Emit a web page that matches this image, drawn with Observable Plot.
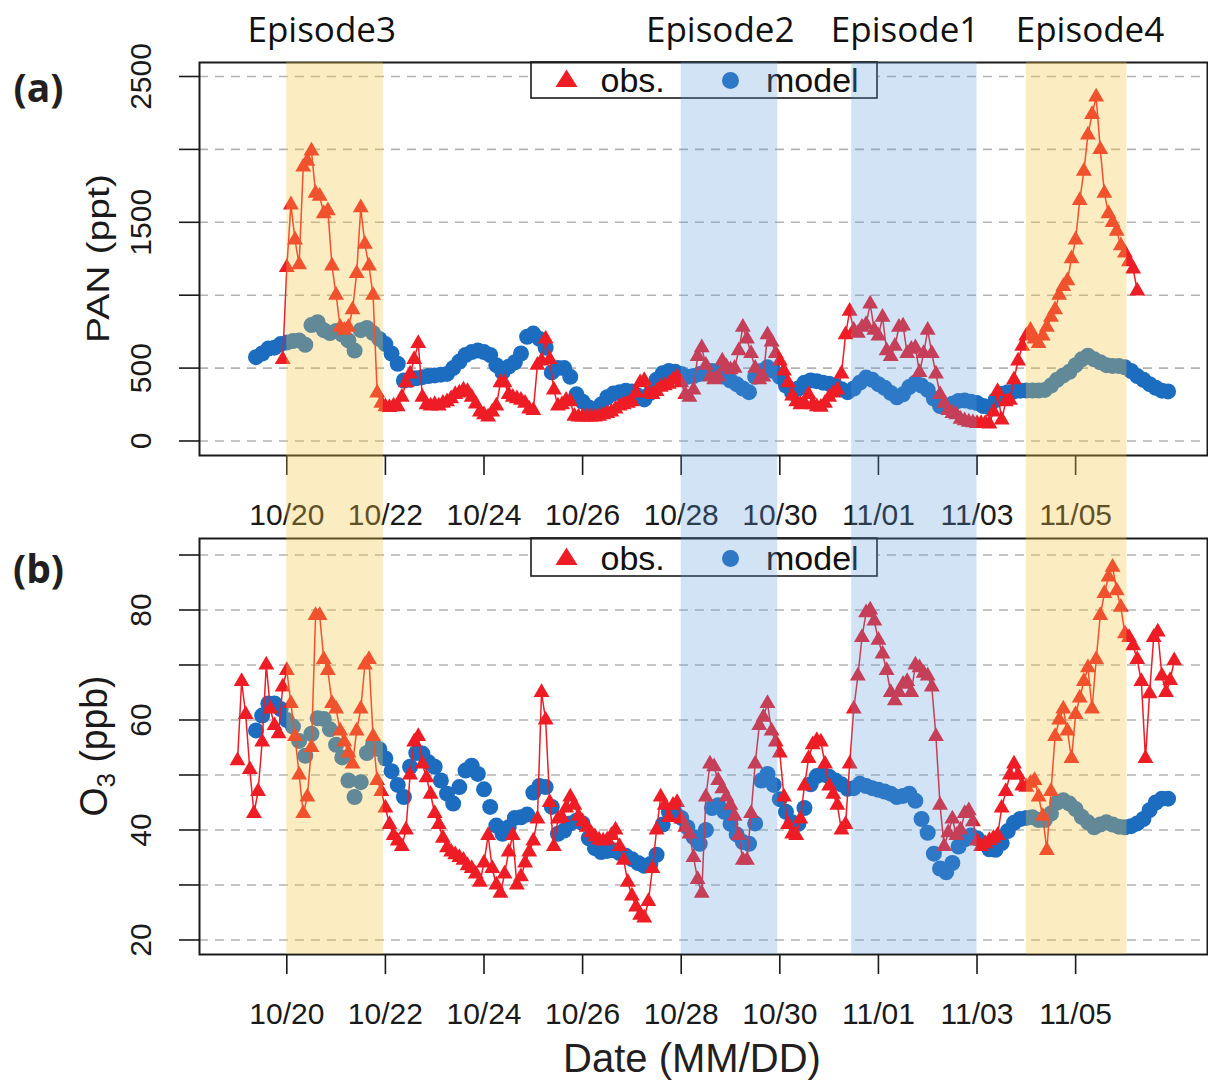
<!DOCTYPE html>
<html>
<head>
<meta charset="utf-8">
<script src="https://cdn.jsdelivr.net/npm/d3@7"></script>
<script src="https://cdn.jsdelivr.net/npm/@observablehq/plot@0.6"></script>
<style>
  html, body { margin: 0; padding: 0; background: #fff; overflow: hidden; }
  #fig { position: relative; width: 1208px; height: 1082px; }
  #fig svg { display: block; }
</style>
</head>
<body>
<div id="fig"></div>
<script>
// ---------------- data (hours counted from 10/20 00:00) ----------------
const YEAR = 2019;
const xTickLabels = ["10/20", "10/22", "10/24", "10/26", "10/28", "10/30", "11/01", "11/03", "11/05"];

const panTicks = [0, 500, 1000, 1500, 2000, 2500];
const panTickLabels = [0, 500, 1500, 2500];
const o3Ticks = [20, 30, 40, 50, 60, 70, 80, 90];
const o3TickLabels = [20, 40, 60, 80];

const episodeNames  = ["Episode3", "Episode2", "Episode1", "Episode4"];
const episodeStartH = [0, 192, 275, 360];
const episodeEndH   = [47, 239, 336, 409];
const episodeKind   = ["yellow", "blue", "blue", "yellow"];
const episodeLabelH = [17, 211, 301, 391];

// PAN observations (ppt), every 2 h starting 10/19 22:00
const panObsStartH = -2;
const panObs = [
  560, 1190, 1620, 1380, 1210, 1880, 1920, 1990, 1700, 1680, 1560, 1580, 1200, 1000, 780, 760, 780, 900, 1150, 1600,
  1350, 1200, 1000, 330, 260, 235, 230, 240, 235, 300, 400, 460, 560, 670, 300, 250, 240, 250, 240, 260,
  270, 290, 320, 330, 350, 340, 300, 255, 200, 180, 165, 200, 240, 400, 400, 320, 300, 290, 280, 260,
  220, 210, 520, 550, 700, 560, 350, 240, 250, 280, 270, 170, 165, 165, 165, 165, 165, 170, 180, 190,
  200, 220, 240, 250, 260, 270, 330, 400, 415, 330, 320, 340, 370, 380, 390, 420, 440, 400, 320, 300,
  350, 580, 640, 520, 440, 420, 440, 550, 510, 490, 500, 620, 780, 700, 600, 500, 420, 440, 730, 680,
  600, 550, 480, 400, 310, 270, 250, 260, 320, 250, 235, 232, 260, 300, 330, 350, 460, 730, 890, 760,
  740, 780, 800, 940, 760, 720, 850, 620, 580, 650, 780, 790, 600, 630, 640, 470, 600, 760, 600, 460,
  320, 260, 210, 190, 180, 150, 140, 130, 125, 120, 120, 120, 118, 200, 340, 145, 270, 280, 420, 550,
  650, 720, 760, 700, 670, 720, 780, 850, 900, 1000, 1060, 1100, 1250, 1380, 1650, 1850, 2100, 2240, 2360, 2000,
  1700, 1560, 1500, 1440, 1340, 1290, 1230, 1180, 1030
];

// PAN model (ppt), every 3 h starting 10/19 09:00
const panModStartH = -15;
const panMod = [
  575, 600, 634, 640, 665, 675, 685, 690, 660, 795, 815, 760, 740, 755, 730, 690, 620, 760, 775, 740,
  700, 665, 600, 530, 415, 420, 430, 438, 445, 450, 455, 460, 500, 545, 590, 610, 620, 610, 590, 520,
  470, 510, 540, 600, 715, 737, 700, 640, 470, 500, 500, 440, 320, 270, 230, 215, 250, 300, 325, 335,
  345, 340, 310, 285, 330, 420, 465, 480, 475, 460, 440, 445, 460, 470, 480, 480, 440, 415, 390, 360,
  335, 440, 480, 505, 480, 440, 380, 330, 360, 400, 415, 410, 400, 392, 380, 355, 335, 360, 400, 435,
  420, 390, 365, 330, 300, 320, 370, 400, 380, 350, 290, 240, 240, 255, 275, 278, 270, 260, 240, 232,
  280, 324, 335, 340, 345, 346, 346, 346, 350, 380, 420, 450, 475, 520, 560, 585, 560, 540, 520, 515,
  515, 505, 480, 445, 420, 390, 365, 345, 340
];

// O3 observations (ppb), every 2 h starting 10/19 00:00
const o3ObsStartH = -24;
const o3Obs = [
  52.6, 67, 61, 51, 43, 47, 56, 70, 62, 59, 57.5, 66, 69, 63, 57, 50, 43, 46, 55, 79,
  79, 71, 69, 63, 62, 58, 56, 54, 52, 58, 62, 70, 71, 57, 49, 47, 44, 41, 39, 38,
  37, 40, 50, 56, 57, 52, 49.5, 46.5, 43, 41, 38.5, 36.8, 36, 35.5, 35, 34.5, 33.5, 33, 32, 30.5,
  34, 39, 33, 30, 28.5, 32, 36, 39, 30, 31.5, 34, 36, 38, 42, 65, 60, 45, 37, 42, 42.3,
  44, 46, 44.5, 42.5, 41.5, 40.5, 39.5, 38.8, 38.2, 38, 38.2, 39, 40, 37, 34.5, 30.5, 28, 26, 24.5, 24,
  27, 33, 40, 46, 44.5, 42.3, 44.5, 45, 42, 40.5, 39.3, 35, 31, 28.5, 46, 52, 51.5, 49, 47.5, 46,
  44.5, 42.5, 39, 34.5, 34.5, 43, 52, 59, 60.5, 63, 58, 56, 54, 46, 41, 39.3, 39, 42, 48, 53,
  55.5, 56.3, 56, 52, 48, 46.5, 44.5, 40, 41, 52, 62, 68, 75, 79.5, 80, 78, 74.5, 72, 69, 65,
  63.5, 65, 66.5, 67, 65, 70, 69.5, 68.5, 68, 66, 57, 44.5, 37, 39.5, 42, 39, 40, 43, 43.5, 41.5,
  38, 37, 37.5, 38.1, 38.5, 39, 44, 47, 50, 52, 50, 48, 47.8, 48.5, 49, 46, 42.5, 36.3, 47, 57,
  60, 62, 58, 53, 61, 64, 67, 69.5, 62, 71, 79, 83, 86, 87.8, 83.5, 80.5, 75.7, 75, 73.5, 71,
  67, 53, 64.8, 75, 76, 68, 65, 67.2, 70.8
];

// O3 model (ppb), every 3 h starting 10/19 09:00
const o3ModStartH = -15;
const o3Mod = [
  58.1, 60.8, 63, 63, 62, 60, 58.8, 56.2, 53.5, 57.5, 60.3, 60.2, 58.3, 55.5, 53.2, 49, 46, 48.7, 54, 55.6,
  54.7, 53, 50.7, 48.2, 46, 51.5, 54, 53.9, 52.3, 51.5, 49, 46.6, 44.8, 47.8, 50.8, 51.7, 50.2, 47.4, 44.2, 40.8,
  39.3, 40.5, 42.2, 42.3, 42.8, 46.8, 48, 47.8, 44.2, 39.3, 39.9, 41.2, 41.7, 41.2, 38.5, 36.7, 36, 36.2, 36.3, 35.8,
  35.3, 34.7, 34, 33.5, 33.8, 35.5, 41, 43.3, 43.1, 42.2, 40.5, 38.7, 37.5, 40, 44, 44.5, 43.3, 41.1, 39.2, 37.8,
  37.5, 41.2, 49, 50.2, 48.2, 45.6, 43.3, 41.4, 41.1, 44, 48.3, 49.8, 50.1, 49.7, 49, 48.3, 47.5, 47.6, 48.4, 48,
  47.6, 47.3, 47, 46.6, 46, 46.2, 46.6, 45.3, 42, 39.5, 35.7, 33, 32.3, 34, 37, 38.3, 39, 38.5, 37.6, 36.5,
  36.4, 37.6, 39.8, 41.3, 42, 42.2, 42.3, 41.8, 41.8, 43, 45, 45.4, 44.8, 43.8, 42.4, 41.4, 40.5, 41, 41.4, 41,
  40.6, 40.5, 40.7, 41.2, 42, 43.6, 45, 45.7, 45.7
];

// ---------------- helpers ----------------
const T0 = Date.UTC(YEAR, 9, 20);
const hour = h => new Date(T0 + h * 3600e3);
const series = (startH, stepH, vals) => vals.map((v, i) => ({t: hour(startH + i * stepH), v}));
const xTickDates = xTickLabels.map(s => { const [m, d] = s.split("/").map(Number); return new Date(Date.UTC(YEAR, m - 1, d)); });
const fmtTick = d3.utcFormat("%m/%d");
const xDomain = [hour(-42.5), hour(448.2)];

const episodes = episodeNames.map((name, i) => ({
  name, start: hour(episodeStartH[i]), end: hour(episodeEndH[i]), kind: episodeKind[i], label: hour(episodeLabelH[i])
}));

const RED = "#EE1C25", BLUE = "#1C6DC0", INK = "#1a1a1a";
const SANS = "'Liberation Sans', Arial, Helvetica, sans-serif";
const HUMAN = "'Open Sans', 'Noto Sans', sans-serif";

// legend drawn inside the panel, below the episode shading
function legendMark(boxH, baseY, symY) {
  return (index, scales, values, dims) => {
    const x0 = dims.marginLeft + 332, y0 = dims.marginTop;
    const g = d3.create("svg:g");
    g.append("rect").attr("x", x0).attr("y", y0).attr("width", 346).attr("height", boxH)
      .attr("fill", "white").attr("stroke", INK).attr("stroke-width", 1.6);
    const cx = x0 + 35.5, cy = y0 + symY;
    g.append("path").attr("d", `M${cx},${cy - 9.5}L${cx + 11},${cy + 8}L${cx - 11},${cy + 8}Z`).attr("fill", RED);
    g.append("circle").attr("cx", x0 + 199.5).attr("cy", y0 + symY + 1.5).attr("r", 8.5).attr("fill", BLUE);
    const txt = (x, s) => g.append("text").attr("x", x).attr("y", y0 + baseY).attr("font-size", 34)
      .attr("text-anchor", "start").attr("font-family", SANS).attr("fill", "#111").text(s);
    txt(x0 + 69.5, "obs.");
    txt(x0 + 235, "model");
    return g.node();
  };
}

// rotated y axis title (supports subscript)
function yTitleMark(parts, fontSize, length, cx) {
  return (index, scales, values, dims) => {
    const cy = dims.marginTop + (dims.height - dims.marginTop - dims.marginBottom) / 2;
    const g = d3.create("svg:g");
    const t = g.append("text")
      .attr("transform", `translate(${cx},${cy}) rotate(-90)`)
      .attr("text-anchor", "middle").attr("dy", "0.32em")
      .attr("font-size", fontSize).attr("font-family", SANS).attr("fill", INK)
      .attr("textLength", length).attr("lengthAdjust", "spacingAndGlyphs");
    for (const p of parts) {
      const ts = t.append("tspan").text(p.text);
      if (p.sub) ts.attr("font-size", fontSize * 0.7).attr("dy", "0.3em");
      if (p.after) ts.attr("dy", "-0.21em");
    }
    return g.node();
  };
}

function panel(opt) {
  const {height, marginTop, marginBottom, yDomain, yTicks, yTickLabels, obs, mod, tag, tagDy, titleMark, legend, showEpisodes, bandSide} = opt;
  const plotH = height - marginTop - marginBottom;
  const span = yDomain[1] - yDomain[0];
  const yLow  = bandSide === "down" ? yDomain[0] - marginBottom / plotH * span : yDomain[0];
  const yHigh = bandSide === "up" ? yDomain[1] + marginTop / plotH * span : yDomain[1];
  const yellow = episodes.filter(d => d.kind === "yellow");
  const blue = episodes.filter(d => d.kind === "blue");
  return Plot.plot({
    width: 1208, height, marginLeft: 199, marginRight: 1, marginTop, marginBottom,
    style: {fontFamily: SANS, fontSize: "30px", background: "white", color: INK},
    x: {type: "utc", domain: xDomain},
    y: {domain: yDomain},
    marks: [
      Plot.gridY({ticks: yTicks, stroke: "#b3b3b3", strokeOpacity: 1, strokeWidth: 1.6, strokeDasharray: "9 7"}),
      Plot.dot(mod, {x: "t", y: "v", r: 8, fill: BLUE}),
      Plot.line(obs, {x: "t", y: "v", stroke: RED, strokeWidth: 1.5}),
      Plot.dot(obs, {x: "t", y: "v", symbol: "triangle", r: 5.9, fill: RED}),
      legend,
      Plot.frame({stroke: INK, strokeWidth: 2}),
      Plot.axisX({ticks: xTickDates, tickSize: 20, tickPadding: 28, tickFormat: d => fmtTick(d), label: null,
        fontSize: 30, stroke: INK, strokeWidth: 1.6, fill: INK}),
      Plot.axisY({ticks: yTicks, tickSize: 20, tickFormat: () => "", label: null, stroke: INK, strokeWidth: 1.6}),
      Plot.text(yTickLabels, {y: d => d, text: d => String(d), frameAnchor: "left", dx: -58, rotate: -90,
        textAnchor: "middle", lineAnchor: "middle", fontSize: 30, fill: INK}),
      titleMark,
      Plot.text([tag], {text: d => d, frameAnchor: "top-left", dx: -161, dy: tagDy, textAnchor: "middle",
        lineAnchor: "middle", fontSize: 39, fontWeight: "bold", fontFamily: HUMAN, fill: "#231F20"}),
      showEpisodes ? Plot.text(episodes, {x: "label", text: "name", frameAnchor: "top", dy: -21, lineAnchor: "bottom",
        fontSize: 35, fontFamily: HUMAN, fill: "#111"}) : null,
      Plot.rect(yellow, {x1: "start", x2: "end", y1: () => yLow, y2: () => yHigh, fill: "#F5C542", fillOpacity: 0.32}),
      Plot.rect(blue, {x1: "start", x2: "end", y1: () => yLow, y2: () => yHigh, fill: "#5A9BDB", fillOpacity: 0.28})
    ]
  });
}

const fig = document.getElementById("fig");

fig.appendChild(panel({
  height: 530, marginTop: 62, marginBottom: 75,
  yDomain: [-99.5, 2596], yTicks: panTicks, yTickLabels: panTickLabels,
  obs: series(panObsStartH, 2, panObs), mod: series(panModStartH, 3, panMod),
  tag: "(a)", tagDy: 27.5,
  titleMark: yTitleMark([{text: "PAN (ppt)"}], 31, 169, 99.5),
  legend: legendMark(36, 30, 17),
  showEpisodes: true, bandSide: "down"
}));

fig.appendChild(panel({
  height: 552, marginTop: 8, marginBottom: 128,
  yDomain: [17.36, 93.0], yTicks: o3Ticks, yTickLabels: o3TickLabels,
  obs: series(o3ObsStartH, 2, o3Obs), mod: series(o3ModStartH, 3, o3Mod),
  tag: "(b)", tagDy: 32.5,
  titleMark: yTitleMark([{text: "O"}, {text: "3", sub: true}, {text: " (ppb)", after: true}], 38, 141, 95),
  legend: legendMark(38, 32, 19),
  showEpisodes: false, bandSide: "up"
}));

// x axis title under panel (b)
const svgB = fig.lastChild;
d3.select(svgB).append("text")
  .attr("x", 692).attr("y", 552 - (1082 - 1071.7))
  .attr("text-anchor", "middle").attr("font-size", 40).attr("font-family", SANS).attr("fill", "#231F20")
  .text("Date (MM/DD)");
</script>
</body>
</html>
